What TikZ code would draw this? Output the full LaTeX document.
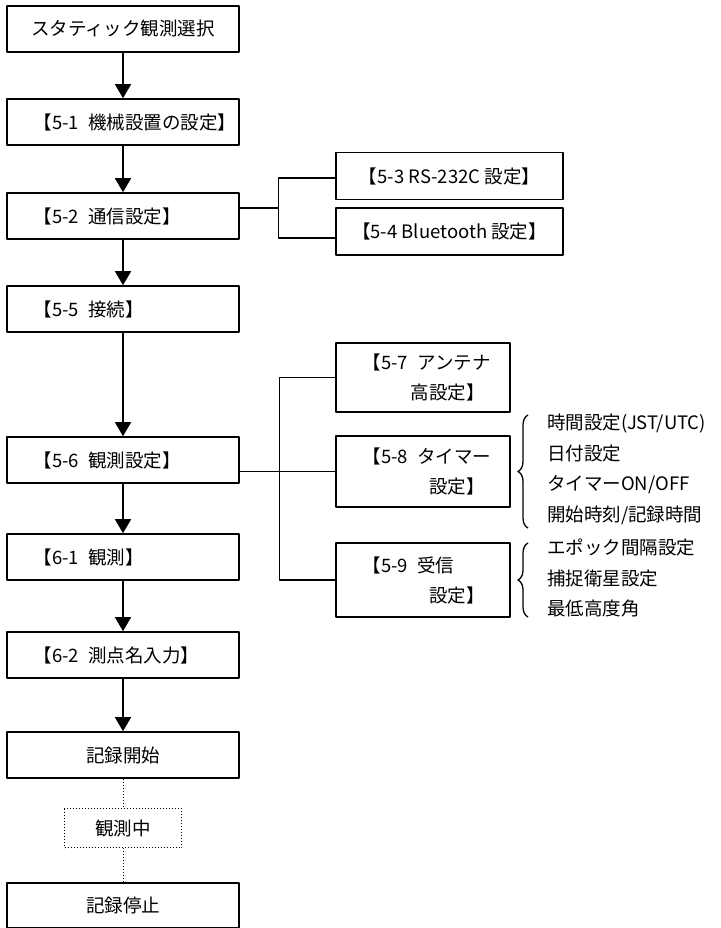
\documentclass[tikz,border=0pt]{standalone}
\usepackage{fontspec}
\setmainfont{Noto Sans CJK JP}[RawFeature=+halt]
\usetikzlibrary{arrows.meta,decorations.pathreplacing}

\tikzset{
	box/.style={draw, line width=1.6pt, minimum width=232pt, minimum height=46pt, inner sep=0pt},
	lbox/.style={box, text width=160pt, align=left, inner xsep=36pt},
	sbox/.style={draw, line width=1.6pt, minimum width=174pt, text width=102pt, align=left, inner xsep=36pt},
	wbox/.style={draw, line width=1.6pt, minimum width=227pt, minimum height=47pt},
	arr/.style={line width=1.5pt, -{Triangle[width=16pt,length=14pt]}},
	link/.style={line width=1.3pt},
	brace/.style={line width=1.3pt, decorate, decoration={brace, amplitude=10pt}},
	list/.style={anchor=west, align=left, inner sep=0pt, font=\fontsize{18.5pt}{30.5pt}\selectfont}
}

\begin{document}
\begin{tikzpicture}[x=1pt, y=-1pt, line join=round, font=\fontsize{18.5pt}{30pt}\selectfont]
	\useasboundingbox (0,0) rectangle (720,928);
	
	\path
	(123,29) node[box] (sel) {スタティック観測選択}
	(123,122) node[lbox] (s51) {\mbox{【5-1\enspace 機械設置の設定】}}
	(123,216) node[lbox] (s52) {\mbox{【5-2\enspace 通信設定】}}
	(123,309) node[lbox] (s55) {\mbox{【5-5\enspace 接続】}}
	(123,460) node[lbox] (s56) {\mbox{【5-6\enspace 観測設定】}}
	(123,557) node[lbox] (s61) {\mbox{【6-1\enspace 観測】}}
	(123,655) node[lbox] (s62) {\mbox{【6-2\enspace 測点名入力】}}
	(123,755) node[box] (rec) {記録開始}
	(123,828) node[draw, dotted, line width=1pt, minimum width=117pt, minimum height=39pt] (obs) {観測中}
	(123,905.5) node[box, minimum height=45pt] (stop) {記録停止};
	
	\path
	(449.5,176) node[wbox] (s53) {【5-3 RS-232C 設定】}
	(449.5,231.5) node[wbox] (s54) {【5-4 Bluetooth 設定】}
	(423,377.5) node[sbox, minimum height=69pt] (s57) {\mbox{【5-7\enspace アンテナ}\\\hspace*{2.1em}\mbox{高設定】}}
	(423,471.5) node[sbox, minimum height=71pt] (s58) {\mbox{【5-8\enspace タイマー}\\\hspace*{3.1em}\mbox{設定】}}
	(423,580) node[sbox, minimum height=74pt] (s59) {\mbox{【5-9\enspace 受信}\\\hspace*{3.1em}\mbox{設定】}};
	
	\node[list] (tim) at (547,469.5) {時間設定(JST/UTC)\\日付設定\\タイマーON/OFF\\開始時刻/記録時間};
	\node[list] (rcv) at (547,578) {エポック間隔設定\\捕捉衛星設定\\最低高度角};
	
	\foreach \a/\b in {sel/s51, s51/s52, s52/s55, s55/s56, s56/s61, s61/s62, s62/rec}
	\draw[arr] (\a) -- (\b);
	
	\draw[dotted, line width=1pt] (rec) -- (obs) (obs) -- (stop);
	
	\draw[link] ([yshift=8pt]s52.east) -- ++(39,0) coordinate (b1);
	\draw[link] ([yshift=-2pt]s53.west) -| (b1) |- ([yshift=-6.5pt]s54.west);
	
	\draw[link] (s58.west) -- (s58.west -| s56.east);
	\draw[link] (s57.west) -| ([xshift=-56pt]s58.west) |- (s59.west);
	
	\draw[brace] (528,528) -- (528,415);
	\draw[brace] (528,617) -- (528,543);
\end{tikzpicture}
\end{document}
